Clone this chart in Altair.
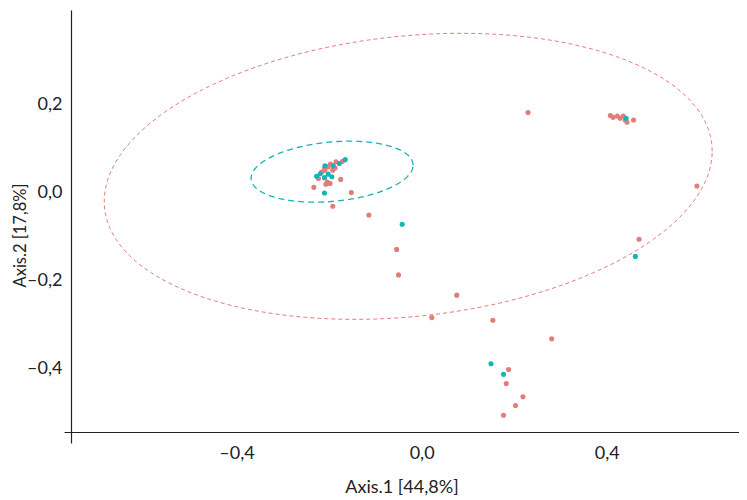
import altair as alt
import pandas as pd
import numpy as np

# ---- data (Axis.1, Axis.2) ----
red_x = [-0.233, -0.207, -0.198, -0.175, -0.152, -0.192, -0.114, -0.054, -0.050,
         0.076, 0.022, 0.154, 0.281, 0.188, 0.183, 0.219, 0.203, 0.177, 0.230,
         0.408, 0.414, 0.423, 0.429, 0.436, 0.440, 0.444, 0.458, 0.595, 0.470,
         -0.171, -0.185, -0.202, -0.192, -0.216, -0.223, -0.204, -0.209, -0.187,
         -0.210, -0.197]
red_y = [0.011, 0.018, 0.020, 0.029, -0.001, -0.032, -0.052, -0.130, -0.188,
         -0.234, -0.285, -0.291, -0.333, -0.403, -0.435, -0.465, -0.485, -0.507, 0.181,
         0.174, 0.170, 0.173, 0.168, 0.173, 0.164, 0.159, 0.164, 0.014, -0.107,
         0.070, 0.069, 0.058, 0.050, 0.046, 0.031, 0.023, 0.050, 0.055,
         0.054, 0.064]

cyan_x = [-0.165, -0.178, -0.191, -0.209, -0.227, -0.210, -0.202, -0.194, -0.210,
          -0.219, -0.042, 0.150, 0.177, 0.442, 0.462]
cyan_y = [0.074, 0.065, 0.060, 0.060, 0.036, 0.033, 0.041, 0.035, -0.002,
          0.042, -0.073, -0.390, -0.414, 0.168, -0.146]

# confidence ellipses: centre x, centre y, half width, half height, y-shift at x extreme
ellipse_red = [-0.029, 0.036, 0.657, 0.325, 0.057]
ellipse_cyan = [-0.1935, 0.0466, 0.175, 0.0693, 0.0148]

x_ticks = [-0.4, 0.0, 0.4]
y_ticks = [-0.4, -0.2, 0.0, 0.2]

RED = "#E27D7A"
CYAN = "#16B3B7"


def ellipse_df(p, n=240):
    cx, cy, hx, hy, dy = p
    t = np.linspace(0, 2 * np.pi, n)
    return pd.DataFrame({
        "x": cx + hx * np.cos(t),
        "y": cy + dy * np.cos(t) + np.sqrt(hy ** 2 - dy ** 2) * np.sin(t),
        "i": np.arange(n),
    })


pts = pd.concat([
    pd.DataFrame({"x": red_x, "y": red_y, "g": "A", "o": 0}),
    pd.DataFrame({"x": cyan_x, "y": cyan_y, "g": "B", "o": 1}),
], ignore_index=True)

lab = "replace(replace(replace(format(datum.value, '.1f'), '.', ','), '\u2212', '\u2013'), '-', '\u2013')"

xscale = alt.Scale(domain=[-0.773, 0.686], nice=False, zero=False)
yscale = alt.Scale(domain=[-0.570, 0.414], nice=False, zero=False)

xaxis = alt.Axis(values=x_ticks, labelExpr=lab, title="Axis.1 [44,8%]", grid=False,
                 ticks=False, tickSize=0, offset=-11, labelPadding=12, titlePadding=16,
                 domainColor="#222222", domainWidth=1.2)
yaxis = alt.Axis(values=y_ticks, labelExpr=lab, title="Axis.2 [17,8%]", grid=False,
                 ticks=False, tickSize=0, offset=-7, labelPadding=9,
                 titleX=-43, titleY=225, titleFontSize=16.5,
                 domainColor="#222222", domainWidth=1.2)

X = alt.X("x:Q", scale=xscale, axis=xaxis)
Y = alt.Y("y:Q", scale=yscale, axis=yaxis)

red_ell = alt.Chart(ellipse_df(ellipse_red)).mark_line(
    color=RED, strokeWidth=1, strokeDash=[4, 3]
).encode(x=X, y=Y, order="i:Q")

cyan_ell = alt.Chart(ellipse_df(ellipse_cyan)).mark_line(
    color=CYAN, strokeWidth=1.3, strokeDash=[6, 4]
).encode(x=X, y=Y, order="i:Q")

points = alt.Chart(pts).mark_circle(size=26, opacity=1).encode(
    x=X, y=Y,
    color=alt.Color("g:N", scale=alt.Scale(domain=["A", "B"], range=[RED, CYAN]), legend=None),
    order="o:Q",
)

chart = alt.layer(red_ell, cyan_ell, points).properties(
    width=675, height=433,
    autosize=alt.AutoSizeParams(type="none"),
    padding={"left": 56, "top": 2, "right": 0, "bottom": 57},
).configure_view(stroke=None).configure_axis(
    labelFont="Lato", titleFont="Lato", labelFontSize=18, titleFontSize=18,
    labelColor="#222222", titleColor="#222222", labelFontWeight="normal",
    titleFontWeight="normal",
)

chart.save("out.html", embed_options={"renderer": "svg", "actions": False})
